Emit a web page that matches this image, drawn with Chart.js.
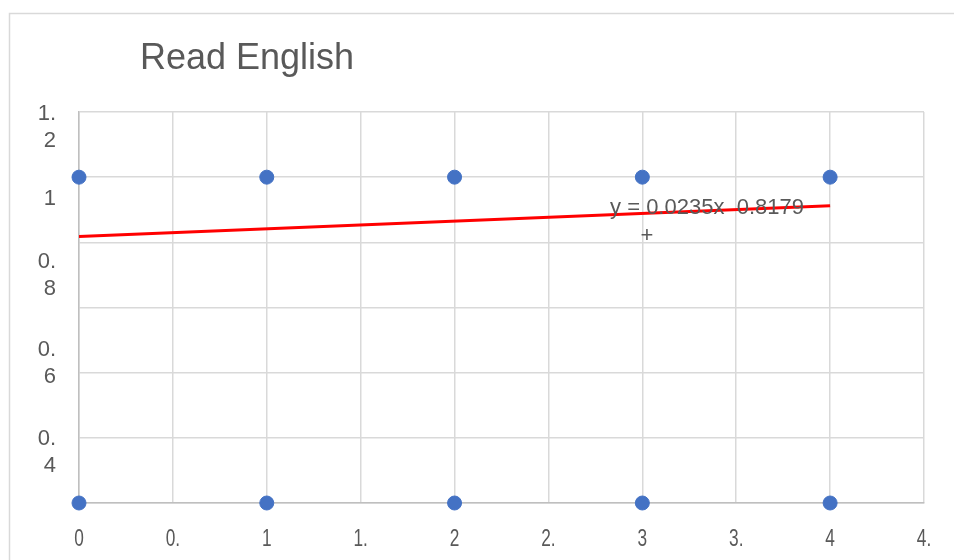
<!DOCTYPE html>
<html>
<head>
<meta charset="utf-8">
<script src="https://cdn.jsdelivr.net/npm/chart.js@4.4.1/dist/chart.umd.min.js"></script>
<style>
    html, body { margin: 0; padding: 0; background: #ffffff; }
    canvas { display: block; }
</style>
</head>
<body>
<canvas id="chart" width="954" height="560"></canvas>
<script>
// scores for "Read English" (1 = yes, 0 = no) by level
const readX = [0, 1, 2, 3, 4, 0, 1, 2, 3, 4];
const readY = [1, 1, 1, 1, 1, 0, 0, 0, 0, 0];

// linear trendline end points, y = 0.0235x + 0.8179
const trendX = [0, 4];
const trendY = [0.8179, 0.9119];
const trendText = ["y = 0.0235x  0.8179", "+"];

const xTickValues = [0, 0.5, 1, 1.5, 2, 2.5, 3, 3.5, 4, 4.5];
const xTickText = ["0", "0.", "1", "1.", "2", "2.", "3", "3.", "4", "4."];
const yTickValues = [1.2, 1, 0.8, 0.6, 0.4];
const yTickText = [["1.", "2"], ["1"], ["0.", "8"], ["0.", "6"], ["0.", "4"]];

const TEXT = "#595959";
const FONT = "Liberation Sans, Arial, sans-serif";

// Excel drifted the wrapped y labels downward, copy that
const yNudge = [2, 22, 20, 42, 66];

const excelLook = {
    id: "excelLook",
    beforeDraw(chart) {
        const ctx = chart.ctx;
        ctx.save();
        ctx.strokeStyle = "#d9d9d9";
        ctx.lineWidth = 1.5;
        ctx.beginPath();
        ctx.moveTo(9.5, 600);
        ctx.lineTo(9.5, 13.5);
        ctx.lineTo(1000, 13.5);
        ctx.stroke();
        ctx.restore();
    },
    afterDraw(chart) {
        const ctx = chart.ctx;
        const xs = chart.scales.x;
        const ys = chart.scales.y;
        ctx.save();
        ctx.fillStyle = TEXT;

        // title
        ctx.font = "36px " + FONT;
        ctx.textAlign = "left";
        ctx.textBaseline = "middle";
        ctx.fillText("Read English", 140, 59);

        // y labels, wrapped
        ctx.font = "22px " + FONT;
        ctx.textAlign = "right";
        yTickValues.forEach((v, i) => {
            const y0 = ys.getPixelForValue(v) + yNudge[i];
            yTickText[i].forEach((line, j) => {
                ctx.fillText(line, 56, y0 + j * 27);
            });
        });

        // x labels, squeezed like the original
        ctx.font = "24px " + FONT;
        ctx.textAlign = "center";
        xTickValues.forEach((v, i) => {
            const px = xs.getPixelForValue(v);
            ctx.save();
            ctx.translate(px, 539);
            ctx.scale(0.72, 1);
            ctx.fillText(xTickText[i], 0, 0);
            ctx.restore();
        });

        // trendline equation
        ctx.font = "22px " + FONT;
        ctx.textAlign = "center";
        ctx.fillText(trendText[0], 707, 208);
        ctx.fillText(trendText[1], 647, 236);
        ctx.restore();
    },
};

new Chart(document.getElementById("chart"), {
    type: "scatter",
    data: {
        datasets: [
            {
                label: "Read English",
                data: readX.map((x, i) => ({ x, y: readY[i] })),
                backgroundColor: "#4472c4",
                borderColor: "#4472c4",
                pointRadius: 7,
                clip: false,
                order: 1,
            },
            {
                label: "Linear",
                type: "line",
                data: trendX.map((x, i) => ({ x, y: trendY[i] })),
                borderColor: "#ff0000",
                borderWidth: 3,
                pointRadius: 0,
                fill: false,
                order: 2,
            },
        ],
    },
    options: {
        responsive: false,
        animation: false,
        layout: { padding: { left: 79, top: 112, right: 30, bottom: 57 } },
        plugins: {
            legend: { display: false },
            tooltip: { enabled: false },
            title: { display: false },
        },
        scales: {
            x: {
                type: "linear",
                min: 0,
                max: 4.5,
                ticks: { display: false, stepSize: 0.5 },
                grid: { color: "#d9d9d9", lineWidth: 1.5, drawTicks: false },
                border: { color: "#bfbfbf", width: 1.5 },
            },
            y: {
                min: 0,
                max: 1.2,
                ticks: { display: false, stepSize: 0.2 },
                grid: { color: "#d9d9d9", lineWidth: 1.5, drawTicks: false },
                border: { color: "#bfbfbf", width: 1.5 },
            },
        },
    },
    plugins: [excelLook],
});
</script>
</body>
</html>
